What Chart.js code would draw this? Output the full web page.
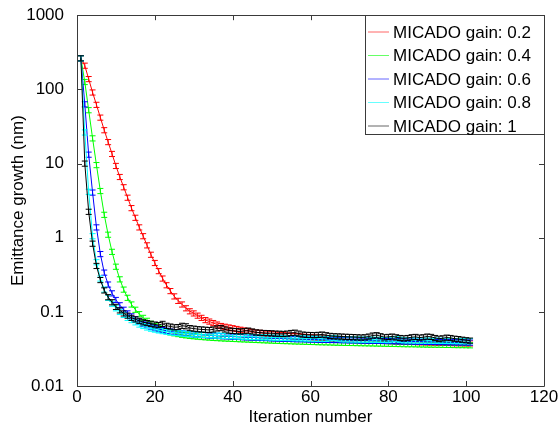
<!DOCTYPE html>
<html>
<head>
    <title>Emittance growth vs iteration</title>
    <script src="https://cdn.jsdelivr.net/npm/chart.js"></script>
    <style>
        body { margin: 0; background: #fff; }
    </style>
</head>
<body>
    <canvas id="emitChart" width="558" height="430"></canvas>
    <script>
        // iteration index 1..101
        const iterations = Array.from({ length: 101 }, (_, i) => i + 1);

        const gain02 = [263, 209, 138, 91, 62, 41.7, 28.2, 19.5, 13.5, 9.3,
            6.6, 4.8, 3.47, 2.51, 1.86, 1.38, 1.05, 0.79, 0.59, 0.457,
            0.355, 0.282, 0.229, 0.191, 0.162, 0.141, 0.126, 0.112, 0.102, 0.0955,
            0.0891, 0.0832, 0.0776, 0.0741, 0.0708, 0.0676, 0.0646, 0.0631, 0.0617, 0.0603,
            0.0589, 0.0575, 0.0562, 0.0550, 0.0537, 0.0525, 0.0522, 0.0513, 0.0510, 0.0501,
            0.0497, 0.0490, 0.0486, 0.0482, 0.0476, 0.0472, 0.0468, 0.0463, 0.0459, 0.0455,
            0.0452, 0.0449, 0.0446, 0.0442, 0.0439, 0.0437, 0.0434, 0.0431, 0.0428, 0.0426,
            0.0424, 0.0421, 0.0419, 0.0417, 0.0415, 0.0413, 0.0411, 0.0409, 0.0407, 0.0405,
            0.0403, 0.0401, 0.0399, 0.0398, 0.0396, 0.0394, 0.0393, 0.0391, 0.0390, 0.0388,
            0.0387, 0.0386, 0.0384, 0.0383, 0.0382, 0.0381, 0.0380, 0.0379, 0.0378, 0.0377, 0.0376];

        const gain04 = [263, 126, 52.5, 21.9, 9.55, 4.27, 2.04, 1.10, 0.646, 0.407,
            0.275, 0.200, 0.155, 0.126, 0.107, 0.0933, 0.0832, 0.0759, 0.0692, 0.0646,
            0.0603, 0.0575, 0.0550, 0.0530, 0.0515, 0.0503, 0.0492, 0.0483, 0.0476, 0.0470,
            0.0464, 0.0459, 0.0455, 0.0451, 0.0447, 0.0444, 0.0441, 0.0438, 0.0436, 0.0433,
            0.0431, 0.0428, 0.0426, 0.0424, 0.0421, 0.0419, 0.0417, 0.0415, 0.0413, 0.0411,
            0.0409, 0.0407, 0.0405, 0.0404, 0.0402, 0.0400, 0.0399, 0.0397, 0.0396, 0.0394,
            0.0393, 0.0391, 0.0390, 0.0389, 0.0388, 0.0386, 0.0385, 0.0384, 0.0383, 0.0382,
            0.0381, 0.0380, 0.0379, 0.0378, 0.0377, 0.0376, 0.0375, 0.0374, 0.0373, 0.0372,
            0.0371, 0.0370, 0.0369, 0.0368, 0.0367, 0.0367, 0.0366, 0.0365, 0.0364, 0.0363,
            0.0362, 0.0362, 0.0361, 0.0360, 0.0359, 0.0359, 0.0358, 0.0357, 0.0357, 0.0356, 0.0355];

        const gain06 = [263, 63, 13.2, 4.07, 1.38, 0.603, 0.339, 0.234, 0.178, 0.145,
            0.123, 0.107, 0.0955, 0.0871, 0.0794, 0.0741, 0.0692, 0.0661, 0.0631, 0.0603,
            0.0585, 0.0570, 0.0556, 0.0544, 0.0534, 0.0525, 0.0517, 0.0510, 0.0504, 0.0498,
            0.0494, 0.0488, 0.0487, 0.0481, 0.0479, 0.0477, 0.0472, 0.0470, 0.0468, 0.0463,
            0.0461, 0.0459, 0.0455, 0.0454, 0.0451, 0.0450, 0.0446, 0.0445, 0.0444, 0.0440,
            0.0439, 0.0438, 0.0435, 0.0434, 0.0433, 0.0430, 0.0429, 0.0429, 0.0426, 0.0425,
            0.0425, 0.0422, 0.0422, 0.0420, 0.0420, 0.0418, 0.0418, 0.0416, 0.0416, 0.0414,
            0.0414, 0.0413, 0.0411, 0.0411, 0.0409, 0.0409, 0.0407, 0.0407, 0.0405, 0.0405,
            0.0404, 0.0402, 0.0402, 0.0400, 0.0400, 0.0399, 0.0397, 0.0397, 0.0396, 0.0394,
            0.0394, 0.0393, 0.0392, 0.0392, 0.0390, 0.0390, 0.0389, 0.0388, 0.0388, 0.0387, 0.0386];

        const gain08 = [263, 26.3, 4.17, 1.05, 0.468, 0.282, 0.200, 0.155, 0.129, 0.112,
            0.100, 0.0912, 0.0832, 0.0776, 0.0724, 0.0676, 0.0646, 0.0617, 0.0595, 0.0578,
            0.0563, 0.0551, 0.0540, 0.0531, 0.0524, 0.0518, 0.0512, 0.0507, 0.0503, 0.0499,
            0.0495, 0.0492, 0.0489, 0.0486, 0.0483, 0.0480, 0.0478, 0.0475, 0.0473, 0.0471,
            0.0468, 0.0466, 0.0464, 0.0462, 0.0460, 0.0458, 0.0456, 0.0455, 0.0453, 0.0451,
            0.0450, 0.0448, 0.0447, 0.0445, 0.0444, 0.0442, 0.0441, 0.0440, 0.0438, 0.0437,
            0.0436, 0.0435, 0.0434, 0.0433, 0.0440, 0.0445, 0.0436, 0.0428, 0.0427, 0.0426,
            0.0425, 0.0424, 0.0423, 0.0422, 0.0422, 0.0421, 0.0420, 0.0419, 0.0418, 0.0417,
            0.0425, 0.0430, 0.0420, 0.0414, 0.0414, 0.0413, 0.0412, 0.0411, 0.0411, 0.0410,
            0.0409, 0.0409, 0.0408, 0.0407, 0.0407, 0.0406, 0.0405, 0.0405, 0.0404, 0.0404, 0.0403];

        const gain10 = [263, 10.0, 2.24, 0.832, 0.417, 0.269, 0.195, 0.158, 0.135, 0.117,
            0.105, 0.0955, 0.0891, 0.0832, 0.0794, 0.0759, 0.0724, 0.0708, 0.0692, 0.0676,
            0.0665, 0.0690, 0.0650, 0.0635, 0.0620, 0.0625, 0.0650, 0.0640, 0.0605, 0.0595,
            0.0585, 0.0580, 0.0575, 0.0570, 0.0580, 0.0600, 0.0605, 0.0580, 0.0560, 0.0555,
            0.0550, 0.0545, 0.0550, 0.0560, 0.0545, 0.0530, 0.0525, 0.0520, 0.0518, 0.0515,
            0.0510, 0.0508, 0.0505, 0.0510, 0.0520, 0.0525, 0.0510, 0.0495, 0.0490, 0.0488,
            0.0485, 0.0490, 0.0495, 0.0485, 0.0475, 0.0470, 0.0468, 0.0465, 0.0462, 0.0460,
            0.0458, 0.0455, 0.0452, 0.0455, 0.0465, 0.0480, 0.0485, 0.0470, 0.0455, 0.0460,
            0.0465, 0.0455, 0.0445, 0.0440, 0.0445, 0.0455, 0.0460, 0.0450, 0.0455, 0.0465,
            0.0460, 0.0445, 0.0435, 0.0440, 0.0450, 0.0445, 0.0435, 0.0430, 0.0422, 0.0415, 0.0410];

        const seriesLabels = ['MICADO gain: 0.2', 'MICADO gain: 0.4', 'MICADO gain: 0.6', 'MICADO gain: 0.8', 'MICADO gain: 1'];
        const seriesColors = ['#ff0000', '#00ff00', '#0000ff', '#00ffff', '#000000'];
        const seriesValues = [gain02, gain04, gain06, gain08, gain10];
        const relErr = [0.08, 0.08, 0.08, 0.08, 0.08];   // relative error bar half-height

        const xTicks = [0, 20, 40, 60, 80, 100, 120];
        const yTicks = [0.01, 0.1, 1, 10, 100, 1000];

        const FONT = 'Liberation Sans, Arial, Helvetica, sans-serif';
        const AXIS_COLOR = '#3a3a3a';

        // error bars, drawn right after each line so the stacking follows the series
        const errorBars = {
            id: 'errorBars',
            afterDatasetDraw(chart, args) {
                const ds = chart.data.datasets[args.index];
                const ys = chart.scales.y;
                const ctx = chart.ctx;
                const area = chart.chartArea;
                ctx.save();
                ctx.beginPath();
                ctx.rect(area.left, area.top, area.right - area.left, area.bottom - area.top);
                ctx.clip();
                ctx.strokeStyle = ds.borderColor;
                ctx.lineWidth = 1;
                ctx.beginPath();
                args.meta.data.forEach((pt, i) => {
                    const v = ds.data[i].y;
                    const yTop = ys.getPixelForValue(v * (1 + ds.relErr));
                    const yBot = ys.getPixelForValue(v * (1 - ds.relErr));
                    ctx.moveTo(pt.x, yTop);
                    ctx.lineTo(pt.x, yBot);
                    ctx.moveTo(pt.x - 3, yTop);
                    ctx.lineTo(pt.x + 3, yTop);
                    ctx.moveTo(pt.x - 3, yBot);
                    ctx.lineTo(pt.x + 3, yBot);
                });
                ctx.stroke();
                ctx.restore();
            }
        };

        // axes box with inward ticks on all four sides, plus the boxed legend
        const frameAndLegend = {
            id: 'frameAndLegend',
            afterDraw(chart) {
                const ctx = chart.ctx;
                const a = chart.chartArea;
                const xs = chart.scales.x, ys = chart.scales.y;
                ctx.save();
                ctx.strokeStyle = AXIS_COLOR;
                ctx.lineWidth = 1;
                ctx.beginPath();
                ctx.rect(Math.round(a.left) + 0.5, Math.round(a.top) + 0.5,
                    Math.round(a.right - a.left), Math.round(a.bottom - a.top));
                xTicks.forEach(t => {
                    const x = Math.round(xs.getPixelForValue(t)) + 0.5;
                    ctx.moveTo(x, a.bottom); ctx.lineTo(x, a.bottom - 5);
                    ctx.moveTo(x, a.top); ctx.lineTo(x, a.top + 5);
                });
                yTicks.forEach(t => {
                    const y = Math.round(ys.getPixelForValue(t)) + 0.5;
                    ctx.moveTo(a.left, y); ctx.lineTo(a.left + 5, y);
                    ctx.moveTo(a.right, y); ctx.lineTo(a.right - 5, y);
                });
                ctx.stroke();

                // legend
                const boxW = 179, boxH = 119;
                const bx = Math.round(a.right) - boxW, by = Math.round(a.top);
                ctx.fillStyle = '#fff';
                ctx.fillRect(bx, by, boxW, boxH);
                ctx.strokeStyle = AXIS_COLOR;
                ctx.strokeRect(bx + 0.5, by + 0.5, boxW, boxH);
                ctx.font = '17px ' + FONT;
                ctx.textBaseline = 'middle';
                ctx.textAlign = 'left';
                chart.data.datasets.forEach((ds, i) => {
                    const ry = by + 17 + i * 23.5;
                    ctx.strokeStyle = ds.borderColor;
                    ctx.globalAlpha = 0.6;
                    ctx.beginPath();
                    ctx.moveTo(bx + 3, ry);
                    ctx.lineTo(bx + 24, ry);
                    ctx.stroke();
                    ctx.globalAlpha = 1;
                    ctx.fillStyle = '#000';
                    ctx.fillText(ds.label, bx + 28, ry + 1);
                });
                ctx.restore();
            }
        };

        const datasets = seriesValues.map((vals, i) => ({
            label: seriesLabels[i],
            data: vals.map((v, j) => ({ x: iterations[j], y: v })),
            borderColor: seriesColors[i],
            backgroundColor: seriesColors[i],
            borderWidth: 1,
            pointRadius: 0,
            tension: 0,
            fill: false,
            relErr: relErr[i],
            order: seriesValues.length - i
        }));

        const ctx = document.getElementById('emitChart').getContext('2d');
        const chart = new Chart(ctx, {
            type: 'line',
            data: { datasets: datasets },
            plugins: [errorBars, frameAndLegend],
            options: {
                responsive: false,
                animation: false,
                devicePixelRatio: 1,
                layout: { padding: { top: 15, right: 14, left: 0, bottom: 0 } },
                plugins: {
                    legend: { display: false },
                    tooltip: { enabled: false }
                },
                scales: {
                    x: {
                        type: 'linear',
                        min: 0,
                        max: 120,
                        afterBuildTicks: scale => { scale.ticks = xTicks.map(v => ({ value: v })); },
                        afterFit: scale => { scale.height = 44; },
                        grid: { display: false },
                        border: { display: false },
                        ticks: { font: { family: FONT, size: 17 }, color: '#000', padding: -7, maxRotation: 0 },
                        title: {
                            display: true,
                            text: 'Iteration number',
                            font: { family: FONT, size: 17 },
                            color: '#000',
                            padding: { top: 0, bottom: 2 }
                        }
                    },
                    y: {
                        type: 'logarithmic',
                        min: 0.01,
                        max: 1000,
                        afterBuildTicks: scale => { scale.ticks = yTicks.map(v => ({ value: v })); },
                        afterFit: scale => { scale.width = 77; },
                        grid: { display: false },
                        border: { display: false },
                        ticks: {
                            font: { family: FONT, size: 17 },
                            color: '#000',
                            padding: 5,
                            callback: v => String(v)
                        },
                        title: {
                            display: true,
                            text: 'Emittance growth (nm)',
                            font: { family: FONT, size: 17 },
                            color: '#000',
                            padding: { top: 8, bottom: 0 }
                        }
                    }
                }
            }
        });
    </script>
</body>
</html>
